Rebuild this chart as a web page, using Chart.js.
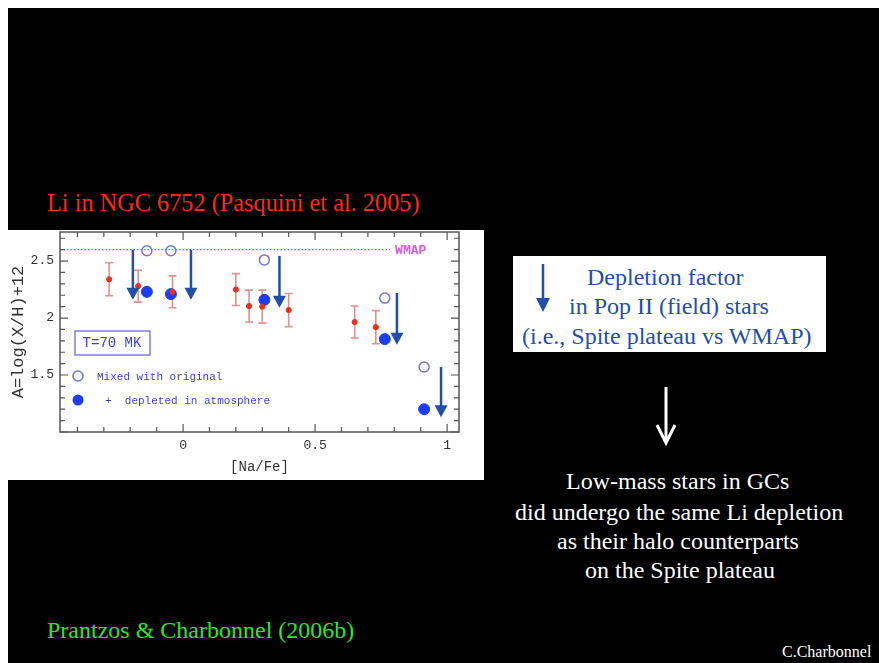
<!DOCTYPE html>
<html>
<head>
<meta charset="utf-8">
<script src="https://cdn.jsdelivr.net/npm/chart.js@4"></script>
<style>
  body { margin: 0; background: #fff; width: 879px; height: 663px; overflow: hidden; position: relative; }
  #slide { position: absolute; left: 8px; top: 8px; width: 871px; height: 655px; background: #000; }
  .t { position: absolute; font-family: "Liberation Serif", serif; font-size: 24px; line-height: 24px; white-space: pre; }
  #chartBox { position: absolute; left: 8px; top: 230px; width: 476px; height: 250px; background: #fff; }
  #infoBox { position: absolute; left: 513px; top: 256px; width: 313px; height: 96px; background: #fff; }
</style>
</head>
<body>
<div id="slide"></div>

<div class="t" style="left:47px; top:191px; color:#ff2a14; font-size:24.3px;">Li in NGC 6752 (Pasquini et al. 2005)</div>

<div id="chartBox"><canvas id="liChart" width="476" height="250"></canvas></div>

<div id="infoBox"></div>
<svg style="position:absolute; left:530px; top:262px;" width="26" height="54">
  <line x1="13" y1="2" x2="13" y2="40" stroke="#1f4fa8" stroke-width="2.5"/>
  <polygon points="6,36 20,36 13,50" fill="#1f4fa8"/>
</svg>
<div class="t" style="left:587px; top:265px; color:#1f4fa8;">Depletion factor</div>
<div class="t" style="left:569px; top:294px; color:#1f4fa8;">in Pop II (field) stars</div>
<div class="t" style="left:522px; top:324px; color:#1f4fa8;">(i.e., Spite plateau vs WMAP)</div>

<svg style="position:absolute; left:650px; top:382px;" width="32" height="66">
  <line x1="16" y1="5" x2="16" y2="60" stroke="#fff" stroke-width="3"/>
  <polyline points="7,43 16,61 25,43" fill="none" stroke="#fff" stroke-width="3"/>
</svg>

<div class="t" style="left:566px; top:469px; color:#fff;">Low-mass stars in GCs</div>
<div class="t" style="left:515px; top:500px; color:#fff;">did undergo the same Li depletion</div>
<div class="t" style="left:557px; top:529px; color:#fff;">as their halo counterparts</div>
<div class="t" style="left:585px; top:558px; color:#fff;">on the Spite plateau</div>

<div class="t" style="left:47px; top:618px; color:#2ee62e;">Prantzos &amp; Charbonnel (2006b)</div>
<div class="t" style="left:782px; top:644px; color:#fff; font-size:16px; line-height:16px;">C.Charbonnel</div>

<script>
// observed stars (red, with error bars)
const obsNaFe = [-0.28, -0.17, -0.04, 0.20, 0.25, 0.30, 0.40, 0.65, 0.73];
const obsLi = [2.34, 2.28, 2.23, 2.25, 2.105, 2.10, 2.07, 1.965, 1.92];
const obsErr = [0.145, 0.14, 0.14, 0.14, 0.14, 0.145, 0.145, 0.14, 0.145];

// models: mixed with original (open) and + atmospheric depletion (filled)
const modelNaFe = [-0.137, -0.046, 0.308, 0.764, 0.913];
const mixedLi = [2.59, 2.59, 2.51, 2.175, 1.57];
const depletedLi = [2.23, 2.21, 2.16, 1.815, 1.20];

// depletion factor arrows
const arrowNaFe = [-0.19, 0.03, 0.365, 0.81, 0.977];
const arrowFrom = [2.60, 2.60, 2.545, 2.22, 1.57];
const arrowTo = [2.16, 2.16, 2.09, 1.765, 1.13];

// WMAP value
const wmapLi = 2.6;
const wmapNaFe = [-0.466, 0.784];

const xMin = -0.466, xMax = 1.045;
const yMin = 1.0, yMax = 2.755;

const monoFont = '"Liberation Mono", "DejaVu Sans Mono", monospace';
const legendBlue = "#3d3dd6";

function isStep(v, step) {
  const q = v / step;
  return Math.abs(q - Math.round(q)) < 1e-6;
}

// inward ticks on all four sides + frame
const framePlugin = {
  id: "frame",
  afterDraw(chart) {
    const ctx = chart.ctx;
    const a = chart.chartArea;
    const xs = chart.scales.x, ys = chart.scales.y;
    ctx.save();
    ctx.strokeStyle = "#555";
    ctx.lineWidth = 1.5;
    ctx.strokeRect(a.left, a.top, a.right - a.left, a.bottom - a.top);
    ctx.lineWidth = 1.2;
    xs.ticks.forEach(t => {
      if (!isStep(t.value, 0.1)) return;
      const px = xs.getPixelForValue(t.value);
      const len = isStep(t.value, 0.5) ? 8 : 5;
      ctx.beginPath();
      ctx.moveTo(px, a.bottom); ctx.lineTo(px, a.bottom - len);
      ctx.moveTo(px, a.top); ctx.lineTo(px, a.top + len);
      ctx.stroke();
    });
    ys.ticks.forEach(t => {
      if (!isStep(t.value, 0.1)) return;
      const py = ys.getPixelForValue(t.value);
      const len = isStep(t.value, 0.5) ? 8 : 5;
      ctx.beginPath();
      ctx.moveTo(a.left, py); ctx.lineTo(a.left + len, py);
      ctx.moveTo(a.right, py); ctx.lineTo(a.right - len, py);
      ctx.stroke();
    });
    ctx.restore();
  }
};

const errorBarPlugin = {
  id: "errorBars",
  beforeDatasetsDraw(chart) {
    const ctx = chart.ctx;
    const xs = chart.scales.x, ys = chart.scales.y;
    ctx.save();
    ctx.strokeStyle = "rgba(205,70,60,0.6)";
    ctx.lineWidth = 1.6;
    obsNaFe.forEach((x, i) => {
      const px = xs.getPixelForValue(x);
      const top = ys.getPixelForValue(obsLi[i] + obsErr[i]);
      const bot = ys.getPixelForValue(obsLi[i] - obsErr[i]);
      ctx.beginPath();
      ctx.moveTo(px, top); ctx.lineTo(px, bot);
      ctx.moveTo(px - 4, top); ctx.lineTo(px + 4, top);
      ctx.moveTo(px - 4, bot); ctx.lineTo(px + 4, bot);
      ctx.stroke();
    });
    ctx.restore();
  }
};

const arrowPlugin = {
  id: "arrows",
  afterDatasetsDraw(chart) {
    const ctx = chart.ctx;
    const xs = chart.scales.x, ys = chart.scales.y;
    ctx.save();
    ctx.strokeStyle = "#1f4fa8";
    ctx.fillStyle = "#1f4fa8";
    ctx.lineWidth = 2.5;
    arrowNaFe.forEach((x, i) => {
      const px = xs.getPixelForValue(x);
      const y0 = ys.getPixelForValue(arrowFrom[i]);
      const y1 = ys.getPixelForValue(arrowTo[i]);
      ctx.beginPath();
      ctx.moveTo(px, y0); ctx.lineTo(px, y1 - 10);
      ctx.stroke();
      ctx.beginPath();
      ctx.moveTo(px - 6.5, y1 - 12);
      ctx.lineTo(px + 6.5, y1 - 12);
      ctx.lineTo(px, y1);
      ctx.closePath();
      ctx.fill();
    });
    ctx.restore();
  }
};

const notesPlugin = {
  id: "notes",
  afterDraw(chart) {
    const ctx = chart.ctx;
    const a = chart.chartArea;
    const xs = chart.scales.x, ys = chart.scales.y;
    ctx.save();
    // WMAP label
    ctx.fillStyle = "#e055e0";
    ctx.font = "bold 13px " + monoFont;
    ctx.textBaseline = "middle";
    ctx.fillText("WMAP", xs.getPixelForValue(wmapNaFe[1]) + 5, ys.getPixelForValue(wmapLi) + 1);

    // T=70 MK box
    ctx.strokeStyle = "#6a6ad0";
    ctx.lineWidth = 1.3;
    ctx.strokeRect(a.left + 15, a.top + 99, 75, 24);
    ctx.fillStyle = legendBlue;
    ctx.font = "14px " + monoFont;
    ctx.textAlign = "center";
    ctx.fillText("T=70 MK", a.left + 52, a.top + 111.5);

    // symbol legend
    ctx.textAlign = "left";
    ctx.font = "11px " + monoFont;
    ctx.beginPath();
    ctx.arc(a.left + 18, a.top + 144, 5, 0, Math.PI * 2);
    ctx.strokeStyle = "#7474d4";
    ctx.lineWidth = 1.5;
    ctx.stroke();
    ctx.fillText("Mixed with original", a.left + 37, a.top + 145);
    ctx.beginPath();
    ctx.arc(a.left + 18, a.top + 168, 5.5, 0, Math.PI * 2);
    ctx.fillStyle = "#1d3ef0";
    ctx.fill();
    ctx.fillStyle = legendBlue;
    ctx.fillText("+  depleted in atmosphere", a.left + 45, a.top + 169);
    ctx.restore();
  }
};

new Chart(document.getElementById("liChart"), {
  type: "scatter",
  data: {
    datasets: [
      {
        label: "WMAP",
        type: "line",
        data: wmapNaFe.map(x => ({ x, y: wmapLi })),
        borderColor: "#e040e0",
        borderWidth: 1.3,
        borderDash: [1.5, 2],
        pointRadius: 0
      },
      {
        label: "observed",
        data: obsNaFe.map((x, i) => ({ x, y: obsLi[i] })),
        backgroundColor: "#e8301c",
        borderColor: "#e8301c",
        pointRadius: 2.6
      },
      {
        label: "Mixed with original",
        data: modelNaFe.map((x, i) => ({ x, y: mixedLi[i] })),
        backgroundColor: "rgba(255,255,255,0)",
        borderColor: "#7474d4",
        borderWidth: 1.5,
        pointRadius: 5
      },
      {
        label: "+ depleted in atmosphere",
        data: modelNaFe.map((x, i) => ({ x, y: depletedLi[i] })),
        backgroundColor: "#1d3ef0",
        borderColor: "#1d3ef0",
        pointRadius: 5.5
      }
    ]
  },
  options: {
    responsive: false,
    animation: false,
    layout: { autoPadding: false, padding: { top: 2, right: 25, left: 0, bottom: 0 } },
    plugins: { legend: { display: false }, tooltip: { enabled: false } },
    scales: {
      x: {
        type: "linear",
        min: xMin,
        max: xMax,
        afterFit(scale) {
          scale.height = 48;
          scale.paddingLeft = 0;
          scale.paddingRight = 0;
        },
        grid: { display: false, drawTicks: false },
        border: { display: false },
        ticks: {
          stepSize: 0.1,
          includeBounds: false,
          autoSkip: false,
          maxRotation: 0,
          padding: 6,
          color: "#333",
          font: { family: monoFont, size: 13 },
          callback: v => isStep(v, 0.5) ? String(Math.round(v * 10) / 10) : ""
        },
        title: {
          display: true,
          text: "[Na/Fe]",
          color: "#333",
          font: { family: monoFont, size: 14 },
          padding: { top: 0, bottom: 4 }
        }
      },
      y: {
        type: "linear",
        min: yMin,
        max: yMax,
        afterFit(scale) {
          scale.width = 52;
          scale.paddingTop = 0;
          scale.paddingBottom = 0;
        },
        grid: { display: false, drawTicks: false },
        border: { display: false },
        ticks: {
          stepSize: 0.1,
          includeBounds: false,
          autoSkip: false,
          padding: 6,
          color: "#333",
          font: { family: monoFont, size: 13 },
          callback: v => (isStep(v, 0.5) && v > 1.2) ? String(Math.round(v * 10) / 10) : ""
        },
        title: {
          display: true,
          text: "A=log(X/H)+12",
          color: "#333",
          font: { family: monoFont, size: 17 },
          padding: { top: 0, bottom: 0 }
        }
      }
    }
  },
  plugins: [framePlugin, errorBarPlugin, arrowPlugin, notesPlugin]
});
</script>
</body>
</html>
